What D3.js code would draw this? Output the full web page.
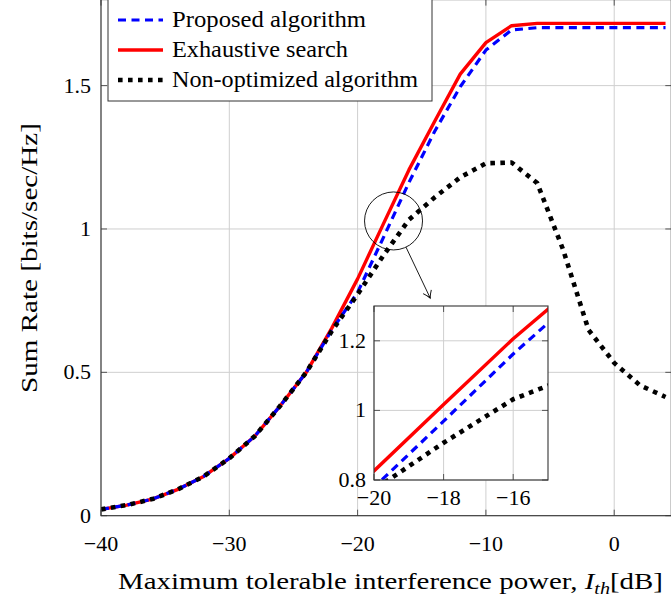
<!DOCTYPE html>
<html><head><meta charset="utf-8">
<script src="https://cdn.jsdelivr.net/npm/d3@7"></script>
<style>html,body{margin:0;padding:0;background:#fff;overflow:hidden}svg{display:block}</style>
</head><body><svg id="c" width="671" height="598"></svg>
<script>
const xValues = [-40,-38,-36,-34,-32,-30,-28,-26,-24,-22,-20,-18,-16,-14,-12,-10,-8,-6,-4,-2,0,2,4];
const exhaustive = [0.022,0.037,0.058,0.092,0.137,0.200,0.278,0.385,0.50,0.655,0.826,1.017,1.206,1.375,1.54,1.65,1.709,1.717,1.717,1.717,1.717,1.717,1.717];
const proposed   = [0.022,0.037,0.058,0.092,0.137,0.200,0.278,0.385,0.50,0.648,0.779,0.969,1.162,1.34,1.496,1.624,1.694,1.702,1.702,1.702,1.702,1.702,1.702];
const nonOpt     = [0.022,0.037,0.058,0.092,0.137,0.200,0.278,0.385,0.50,0.645,0.772,0.907,1.032,1.11,1.18,1.229,1.232,1.16,0.93,0.648,0.533,0.455,0.414];
const seriesNames = ["Proposed algorithm","Exhaustive search","Non-optimized algorithm"];
const xTicks = [-40,-30,-20,-10,0];
const yTicks = [0,0.5,1,1.5];
const insetXTicks = [-20,-18,-16];
const insetYTicks = [0.8,1,1.2];
const zoomCenter = [-17.2, 1.028];
const arrowTip = [-14.34, 0.759];

const FF = "'Liberation Serif','Times New Roman','DejaVu Serif','Noto Serif',serif";
const svg = d3.select("#c").attr("font-family", FF).style("font-family", FF);
const x = d3.scaleLinear().domain([-40, 4.45]).range([101, 671.3]);
const y = d3.scaleLinear().domain([0, 1.8]).range([515.7, -0.4]);
const fmt = v => (v < 0 ? "\u2212" + Math.abs(v) : String(v));
const gridCol = "#cfcfcf", tickCol = "#555", FS = 22;

const series = [
  {name: seriesNames[0], vals: proposed, color: "#0000ff", w: 3.2, dash: "8,5.5", cap: "butt"},
  {name: seriesNames[1], vals: exhaustive, color: "#ff0000", w: 3.4, dash: null, cap: "butt"},
  {name: seriesNames[2], vals: nonOpt, color: "#000", w: 4.6, dash: "4.6,5.4", cap: "butt"}
];
const drawOrder = [series[1], series[0], series[2]];
const curveGen = (xs, ys) => d3.line().x((d, i) => xs(xValues[i])).y(d => ys(d));

function drawGrid(g, xs, ys, xt, yt) {
  const [x0, x1] = xs.range(), [y0, y1] = ys.range();
  g.append("g").selectAll("line").data(xt).join("line")
    .attr("x1", d => xs(d)).attr("x2", d => xs(d)).attr("y1", y0).attr("y2", y1)
    .attr("stroke", gridCol).attr("stroke-width", 1);
  g.append("g").selectAll("line").data(yt).join("line")
    .attr("y1", d => ys(d)).attr("y2", d => ys(d)).attr("x1", x0).attr("x2", x1)
    .attr("stroke", gridCol).attr("stroke-width", 1);
}
function drawTicksFrame(g, xs, ys, xt, yt) {
  const [x0, x1] = xs.range(), [y0, y1] = ys.range();
  const L = 6;
  xt.forEach(d => {
    g.append("line").attr("x1", xs(d)).attr("x2", xs(d)).attr("y1", y0).attr("y2", y0 - L).attr("stroke", tickCol);
    g.append("line").attr("x1", xs(d)).attr("x2", xs(d)).attr("y1", y1).attr("y2", y1 + L).attr("stroke", tickCol);
  });
  yt.forEach(d => {
    g.append("line").attr("y1", ys(d)).attr("y2", ys(d)).attr("x1", x0).attr("x2", x0 + L).attr("stroke", tickCol);
    g.append("line").attr("y1", ys(d)).attr("y2", ys(d)).attr("x1", x1).attr("x2", x1 - L).attr("stroke", tickCol);
  });
  g.append("rect").attr("x", x0).attr("y", y1).attr("width", x1 - x0).attr("height", y0 - y1)
    .attr("fill", "none").attr("stroke", "#333").attr("stroke-width", 1.1);
}
function drawCurves(g, xs, ys, clipId) {
  const c = g.append("g").attr("clip-path", `url(#${clipId})`);
  const gen = curveGen(xs, ys);
  drawOrder.forEach(s => {
    c.append("path").attr("d", gen(s.vals)).attr("fill", "none")
      .attr("stroke", s.color).attr("stroke-width", s.w)
      .attr("stroke-dasharray", s.dash).attr("stroke-linecap", s.cap).attr("stroke-linejoin", "round");
  });
}

// main
const main = svg.append("g");
drawGrid(main, x, y, xTicks, yTicks);
svg.append("clipPath").attr("id", "mclip").append("rect")
  .attr("x", 101).attr("y", -0.4).attr("width", 570.3).attr("height", 516.1);
drawCurves(main, x, y, "mclip");
drawTicksFrame(main, x, y, xTicks, yTicks);

main.selectAll("text.xt").data(xTicks).join("text")
  .attr("x", d => x(d)).attr("y", 551).attr("text-anchor", "middle")
  .attr("font-size", FS).text(fmt);
main.selectAll("text.yt").data(yTicks).join("text")
  .attr("x", 91).attr("y", d => y(d) + 7).attr("text-anchor", "end")
  .attr("font-size", FS).text(fmt);

svg.append("text").attr("transform", "translate(37,258) rotate(-90)")
  .attr("text-anchor", "middle").attr("font-size", 23)
  .attr("textLength", 270).attr("lengthAdjust", "spacingAndGlyphs")
  .text("Sum Rate [bits/sec/Hz]");
const xl = svg.append("text").attr("x", 118).attr("y", 589).attr("font-size", 23);
xl.append("tspan").text("Maximum tolerable interference power, ");
xl.append("tspan").attr("font-style", "italic").text("I");
xl.append("tspan").attr("font-style", "italic").attr("font-size", 16).attr("dy", 5).text("th");
xl.append("tspan").attr("dy", -5).text("[dB]");
xl.attr("textLength", 545).attr("lengthAdjust", "spacingAndGlyphs");

// legend
const lg = svg.append("g");
lg.append("rect").attr("x", 108).attr("y", -1).attr("width", 324).attr("height", 102)
  .attr("fill", "#fff").attr("stroke", "#333").attr("stroke-width", 1);
const legW = [194, 176, 246];
series.forEach((s, i) => {
  const ly = 20 + i * 30;
  lg.append("line").attr("x1", 118).attr("x2", 163).attr("y1", ly).attr("y2", ly)
    .attr("stroke", s.color).attr("stroke-width", s.w).attr("stroke-dasharray", s.dash);
  lg.append("text").attr("x", 172).attr("y", ly + 7).attr("font-size", 22.5)
    .attr("textLength", legW[i]).attr("lengthAdjust", "spacingAndGlyphs").text(s.name);
});

// zoom circle + arrow
const cx = x(zoomCenter[0]), cy = y(zoomCenter[1]), r = 29;
svg.append("circle").attr("cx", cx).attr("cy", cy).attr("r", r)
  .attr("fill", "none").attr("stroke", "#000").attr("stroke-width", 0.9);
const tx = x(arrowTip[0]), ty = y(arrowTip[1]);
const ang = Math.atan2(ty - cy, tx - cx);
const sx = cx + r * Math.cos(ang), sy = cy + r * Math.sin(ang);
svg.append("line").attr("x1", sx).attr("y1", sy).attr("x2", tx).attr("y2", ty)
  .attr("stroke", "#000").attr("stroke-width", 0.9);
svg.append("g").attr("transform", `translate(${tx},${ty}) rotate(${ang * 180 / Math.PI})`)
  .append("path").attr("d", "M-7,-4.5 Q-2.5,-1 0,0 Q-2.5,1 -7,4.5")
  .attr("fill", "none").attr("stroke", "#000").attr("stroke-width", 0.9);

// inset
const ix = d3.scaleLinear().domain([-20, -15]).range([374, 548]);
const iy = d3.scaleLinear().domain([0.8, 1.3]).range([480, 306]);
const inset = svg.append("g");
inset.append("rect").attr("x", 374).attr("y", 306).attr("width", 174).attr("height", 174).attr("fill", "#fff");
drawGrid(inset, ix, iy, insetXTicks, insetYTicks);
svg.append("clipPath").attr("id", "iclip").append("rect")
  .attr("x", 374).attr("y", 306).attr("width", 174).attr("height", 174);
drawCurves(inset, ix, iy, "iclip");
drawTicksFrame(inset, ix, iy, insetXTicks, insetYTicks);
inset.selectAll("text.ixt").data(insetXTicks).join("text")
  .attr("x", d => ix(d)).attr("y", 505).attr("text-anchor", "middle").attr("font-size", FS).text(fmt);
inset.selectAll("text.iyt").data(insetYTicks).join("text")
  .attr("x", 366).attr("y", d => iy(d) + 7).attr("text-anchor", "end").attr("font-size", FS).text(fmt);
</script></body></html>
